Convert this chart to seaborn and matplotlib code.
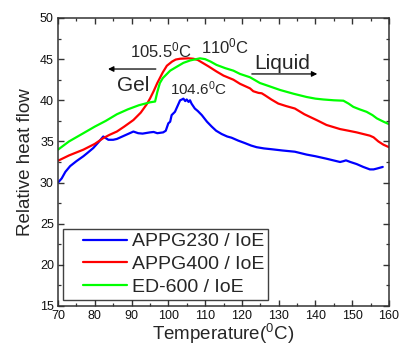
import numpy as np
import pandas as pd
import seaborn as sns
import matplotlib
matplotlib.use("Agg")
import matplotlib.pyplot as plt
from matplotlib.legend_handler import HandlerLine2D
from matplotlib.lines import Line2D

# DSC traces (relative heat flow vs temperature)
t_appg230 = [70, 71, 72, 73.3, 75, 76.9, 78, 79.6, 81, 82.3, 83.7, 85, 86, 88, 89.5,
             90.5, 91.8, 93, 95, 96, 97, 98.6, 99.3, 100, 100.5, 100.9, 101.8, 102.5,
             103.2, 103.7, 104.1, 104.6, 105, 105.5, 105.9, 106.3, 107.2, 108, 109.1,
             110.5, 111.8, 113, 114.5, 116, 117.2, 119, 120.8, 122.5, 124, 126, 128.1,
             131, 134.4, 137.6, 140, 143, 146.7, 147.6, 148.3, 149.5, 151.2, 153, 154.8,
             155.8, 156.7, 158.3]
hf_appg230 = [30.0, 30.5, 31.3, 32.0, 32.6, 33.2, 33.6, 34.2, 34.9, 35.6, 35.2, 35.2, 35.3,
              35.7, 36.0, 36.2, 36.0, 35.95, 36.1, 36.15, 36.0, 36.1, 36.3, 37.2, 37.4,
              38.2, 38.6, 39.3, 40.0, 40.1, 40.2, 39.9, 40.1, 39.8, 40.0, 39.6, 39.0, 38.7,
              38.2, 37.4, 36.8, 36.3, 35.9, 35.6, 35.45, 35.1, 34.8, 34.5, 34.3, 34.15,
              34.05, 33.9, 33.75, 33.4, 33.2, 32.9, 32.5, 32.6, 32.7, 32.5, 32.25, 31.9,
              31.6, 31.6, 31.7, 31.9]

t_appg400 = [70, 73, 76.9, 80, 82.3, 84, 86, 88, 90.5, 92.5, 94.1, 95, 96, 97, 98.5,
             99.6, 101, 102, 103.2, 105.5, 106.8, 108, 109.5, 111, 113.1, 115, 117.7,
             119.5, 122.2, 123.1, 124.5, 125.4, 126.3, 128, 129.9, 132, 134.4, 137,
             140.3, 143, 146.7, 149, 151.2, 153, 154.8, 155.8, 157.1, 158.5, 160]
hf_appg400 = [32.65, 33.3, 34.0, 34.7, 35.4, 35.8, 36.2, 36.8, 37.6, 38.5, 39.5, 40.2,
              41.1, 42.1, 43.4, 44.2, 44.7, 44.95, 45.05, 45.1, 45.05, 44.9, 44.5, 44.1,
              43.5, 43.0, 42.5, 42.0, 41.45, 41.1, 40.9, 40.85, 40.6, 40.1, 39.6, 39.3,
              39.0, 38.3, 37.6, 37.0, 36.5, 36.3, 36.1, 35.9, 35.7, 35.5, 35.0, 34.6, 34.3]

t_ed600 = [70, 73, 76.9, 80, 83, 86, 89, 92, 95, 96.4, 97, 97.7, 98.5, 100.5, 102,
           104.1, 106, 108.6, 110, 111.5, 113.1, 115.5, 117.7, 119.5, 122.2, 124.9,
           127.5, 130.4, 134, 137.6, 140, 142.1, 145, 147.6, 149, 150.3, 152, 153.9,
           155.5, 156.7, 158.5, 160]
hf_ed600 = [34.0, 35.0, 36.0, 36.8, 37.5, 38.3, 38.9, 39.4, 39.75, 39.85, 41.0, 42.1,
            42.7, 43.6, 44.0, 44.55, 44.85, 45.1, 45.0, 44.7, 44.3, 43.9, 43.6, 43.2,
            42.8, 42.1, 41.7, 41.25, 40.8, 40.4, 40.2, 40.1, 40.0, 39.95, 39.6, 39.2,
            38.9, 38.6, 38.2, 37.8, 37.4, 37.1]

labels = ["APPG230 / IoE", "APPG400 / IoE", "ED-600 / IoE"]
colors = ["#0000ff", "#ff0000", "#00ff00"]

df = pd.concat([
    pd.DataFrame({"T": t_appg230, "hf": hf_appg230, "sample": labels[0]}),
    pd.DataFrame({"T": t_appg400, "hf": hf_appg400, "sample": labels[1]}),
    pd.DataFrame({"T": t_ed600, "hf": hf_ed600, "sample": labels[2]}),
], ignore_index=True)

sns.set_style("ticks")
plt.rcParams["font.family"] = ["Liberation Sans", "DejaVu Sans"]
plt.rcParams["mathtext.fontset"] = "custom"
plt.rcParams["mathtext.rm"] = "Liberation Sans"
plt.rcParams["mathtext.it"] = "Liberation Sans"

fig = plt.figure(figsize=(3.99, 3.49), dpi=100)
ax = fig.add_axes([58 / 399, 1 - 306 / 349, 331 / 399, 288 / 349])

sns.lineplot(data=df, x="T", y="hf", hue="sample", palette=colors, sort=False,
             estimator=None, linewidth=1.6, ax=ax)

ax.set_xlim(70, 160)
ax.set_ylim(15, 50)
ax.set_xticks(np.arange(70, 161, 10))
ax.set_yticks(np.arange(15, 51, 5))
ax.set_xticks(np.arange(75, 160, 10), minor=True)
ax.set_yticks(np.arange(17.5, 50, 2.5), minor=True)

spine_c = "#333333"
for s in ax.spines.values():
    s.set_color(spine_c)
    s.set_linewidth(1.1)
ax.tick_params(which="both", direction="in", top=True, right=True, colors=spine_c,
               labelcolor="#111111", labelsize=9, pad=3)
ax.tick_params(which="major", length=4, width=1)
ax.tick_params(which="minor", length=2.5, width=0.9)

ax.set_xlabel(r"Temperature($^0$C)", fontsize=13.5, labelpad=0)
ax.set_ylabel("Relative heat flow", fontsize=13.5, labelpad=4)

# legend with the sample line inset from the frame's left edge
leg = ax.legend(loc="lower left", bbox_to_anchor=(0.015, 0.021), fontsize=14,
                frameon=True, fancybox=False, handlelength=3.1, handletextpad=0.25,
                labelspacing=0.27, borderpad=0.2, borderaxespad=0,
                handler_map={Line2D: HandlerLine2D(xpad=0.82)})
leg.get_frame().set_edgecolor("#111111")
leg.get_frame().set_linewidth(1.0)
for line in leg.get_lines():
    line.set_linewidth(1.6)

# transition temperatures and phase arrows
ax.text(89.6, 45.25, r"105.5$^0$C", fontsize=12, ha="left", va="baseline")
ax.text(108.9, 45.7, r"110$^0$C", fontsize=12, ha="left", va="baseline")
ax.text(100.5, 40.7, r"104.6$^0$C", fontsize=11, ha="left", va="baseline")
ax.text(86.0, 41.15, "Gel", fontsize=15, ha="left", va="baseline")
ax.text(123.3, 43.85, "Liquid", fontsize=15, ha="left", va="baseline")
arrow = dict(arrowstyle="-|>", color="black", lw=0.9, mutation_scale=8,
             shrinkA=0, shrinkB=0)
ax.annotate("", xy=(83.6, 43.8), xytext=(96.6, 43.8), arrowprops=arrow)
ax.annotate("", xy=(140.5, 43.2), xytext=(122.7, 43.2), arrowprops=arrow)

fig.savefig("out.png", dpi=100)
